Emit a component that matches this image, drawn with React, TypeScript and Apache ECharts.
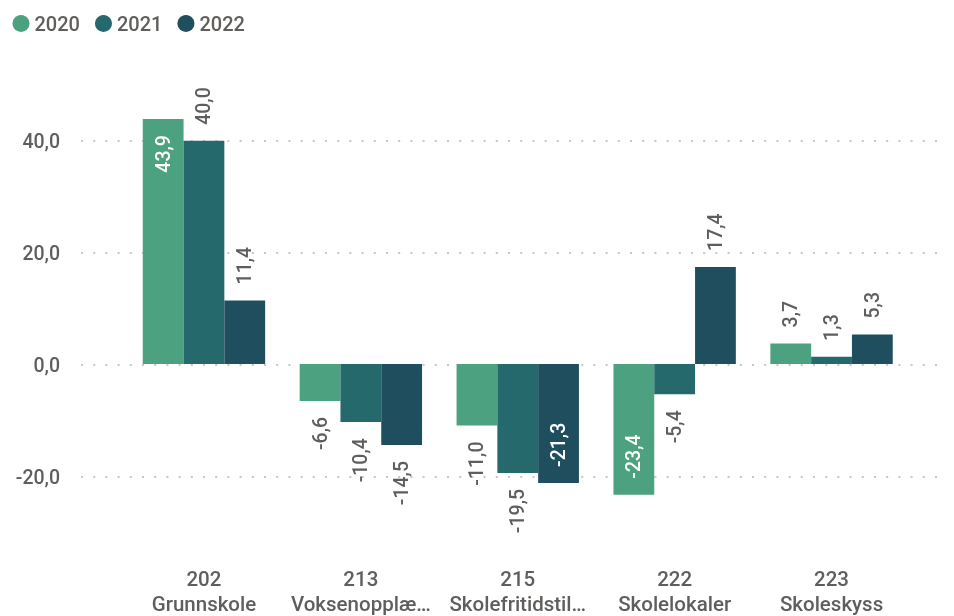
import React, { useEffect, useRef } from "react";
import * as echarts from "echarts";

const years = ["2020", "2021", "2022"];
const codes = ["202", "213", "215", "222", "223"];
const names = ["Grunnskole", "Voksenopplæ…", "Skolefritidstil…", "Skolelokaler", "Skoleskyss"];
const values2020 = [43.9, -6.6, -11.0, -23.4, 3.7];
const values2021 = [40.0, -10.4, -19.5, -5.4, 1.3];
const values2022 = [11.4, -14.5, -21.3, 17.4, 5.3];
const yTicks = [-20, 0, 20, 40];

const colors = ["#4CA180", "#25696D", "#1F4E5F"];
const textColor = "#605E5C";
const FONT = "Roboto, 'Noto Sans', sans-serif";
const WEIGHT = 500;

const fmt = (v: number) => v.toFixed(1).replace(".", ",");

function buildData(vals: number[]) {
  return vals.map((v) => {
    const inside = v > 42 || v < -20;
    let label: any;
    if (v >= 0) {
      label = inside
        ? { position: "insideTop", align: "right", color: "#FFFFFF" }
        : { position: "top", align: "left", color: textColor };
    } else {
      label = inside
        ? { position: "insideBottom", align: "left", color: "#FFFFFF" }
        : { position: "bottom", align: "right", color: textColor };
    }
    return { value: v, label };
  });
}

export default function App() {
  const ref = useRef<HTMLDivElement>(null);
  useEffect(() => {
    if (!ref.current) return;
    const chart = echarts.init(ref.current, undefined, { renderer: "svg" });
    const pxPerUnit = (477 - 141) / 60;
    const g1Min = -30;
    const g1Max = 50;
    const g1Top = 141 - (g1Max - 40) * pxPerUnit;
    const g1BottomY = 477 + (-20 - g1Min) * pxPerUnit;
    const seriesVals = [values2020, values2021, values2022];
    chart.setOption({
      animation: false,
      textStyle: { fontFamily: FONT },
      legend: {
        left: 12.5,
        top: 13.5,
        padding: 0,
        icon: "circle",
        itemWidth: 17,
        itemHeight: 17,
        itemGap: 15,
        data: years,
        textStyle: { color: textColor, fontSize: 20, fontFamily: FONT, fontWeight: WEIGHT },
      },
      grid: [
        { left: 81, right: 7, top: 141, bottom: 616 - 477 },
        { left: 125.5, right: 44, top: g1Top, bottom: 616 - g1BottomY },
      ],
      xAxis: [
        { type: "value", gridIndex: 0, show: false, min: 0, max: 1 },
        {
          type: "category",
          gridIndex: 1,
          data: codes.map((c, i) => c + "\n" + names[i]),
          axisLine: { show: false },
          axisTick: { show: false },
          axisLabel: {
            color: textColor,
            fontSize: 20.5,
            fontFamily: FONT,
            fontWeight: WEIGHT,
            lineHeight: 25,
            margin: 580 - 12.5 - g1BottomY,
            interval: 0,
          },
        },
      ],
      yAxis: [
        {
          type: "value",
          gridIndex: 0,
          min: yTicks[0],
          max: yTicks[yTicks.length - 1],
          interval: 20,
          axisLine: { show: false },
          axisTick: { show: false },
          axisLabel: {
            color: textColor,
            fontSize: 19.5,
            fontFamily: FONT,
            fontWeight: WEIGHT,
            margin: 21,
            formatter: (v: number) => fmt(v),
          },
          splitLine: {
            show: true,
            lineStyle: { color: "#C8C6C4", width: 2, type: [2, 10.2] },
          },
        },
        {
          type: "value",
          gridIndex: 1,
          min: g1Min,
          max: g1Max,
          show: false,
          splitLine: { show: false },
        },
      ],
      series: years.map((y, i) => ({
        name: y,
        type: "bar",
        xAxisIndex: 1,
        yAxisIndex: 1,
        barGap: "0%",
        barCategoryGap: "22%",
        itemStyle: { color: colors[i] },
        data: buildData(seriesVals[i]),
        label: {
          show: true,
          rotate: 90,
          verticalAlign: "middle",
          distance: 16,
          fontSize: 19.5,
          fontFamily: FONT,
          fontWeight: WEIGHT,
          formatter: (p: any) => fmt(p.value),
        },
      })),
    });
    return () => chart.dispose();
  }, []);
  return (
    <div
      ref={ref}
      style={{ position: "fixed", left: 0, top: 0, width: 954, height: 616 }}
    />
  );
}
